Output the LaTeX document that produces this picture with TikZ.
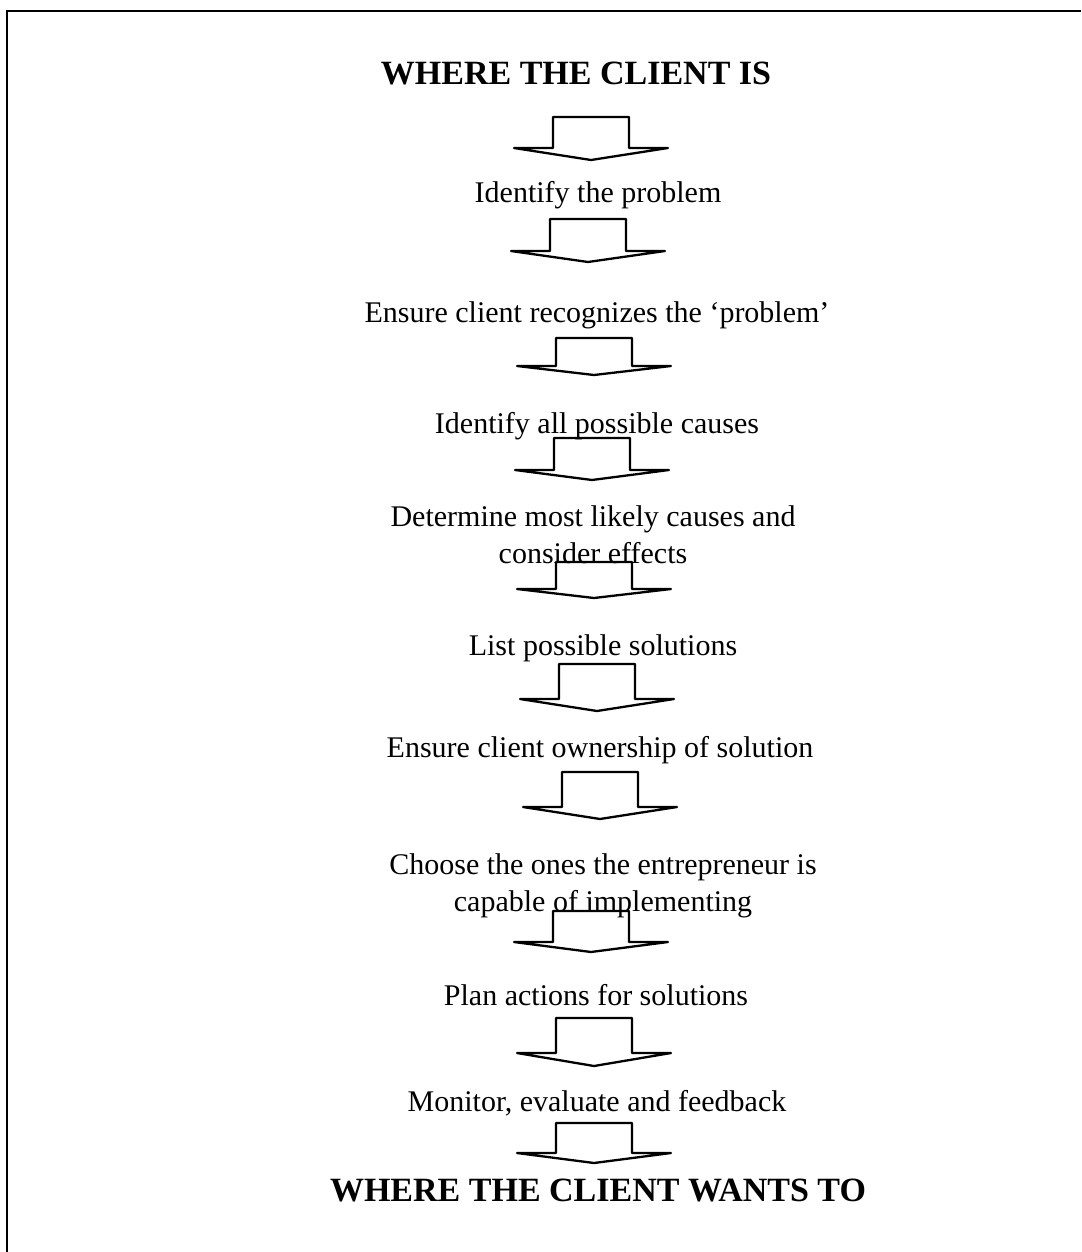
\documentclass[tikz,border=0pt]{standalone}
\usepackage{fontspec}
\setmainfont{Liberation Serif}
\tikzset{
  steptext/.style={inner sep=0pt, anchor=base, align=center, font=\fontsize{30}{37}\selectfont},
  endtext/.style={inner sep=0pt, anchor=base, font=\fontsize{34}{40}\selectfont\bfseries},
  flowarrow/.style={draw, line width=2.3pt, line join=round}
}
\begin{document}
\begin{tikzpicture}[x=1pt,y=-1pt]
\useasboundingbox (0,0) rectangle (1081,1252);
\draw[line width=2pt] (1081,11.5) -- (6.5,11.5) -- (6.5,1252);
\node[endtext] (is) at (576,85) {WHERE THE CLIENT IS};
\node[steptext] (1) at (598,202) {Identify the problem};
\node[steptext] (2) at (597,322) {Ensure client recognizes the ‘problem’};
\node[steptext] (3) at (597,433) {Identify all possible causes};
\node[steptext] (4) at (593,563) {Determine most likely causes and\\consider effects};
\node[steptext] (5) at (603,655) {List possible solutions};
\node[steptext] (6) at (600,757) {Ensure client ownership of solution};
\node[steptext] (7) at (603,911) {Choose the ones the entrepreneur is\\capable of implementing};
\node[steptext] (8) at (596,1005) {Plan actions for solutions};
\node[steptext] (9) at (597,1111) {Monitor, evaluate and feedback};
\node[endtext] (wants) at (598,1201) {WHERE THE CLIENT WANTS TO};
\foreach \cx/\ya/\yb/\ty in {591/117/148/160, 588/219/251/262, 594/338/366/375,
    592/438/470/480, 594/562/589/598, 597/664/699/711, 600/772/807/819,
    591/911/942/952, 594/1018/1053/1066, 594/1123/1153/1163}
  \path[flowarrow] (\cx-77,\yb) -- (\cx-38,\yb) -- (\cx-38,\ya) -- (\cx+38,\ya)
    -- (\cx+38,\yb) -- (\cx+77,\yb) -- (\cx,\ty) -- cycle;
\end{tikzpicture}
\end{document}
